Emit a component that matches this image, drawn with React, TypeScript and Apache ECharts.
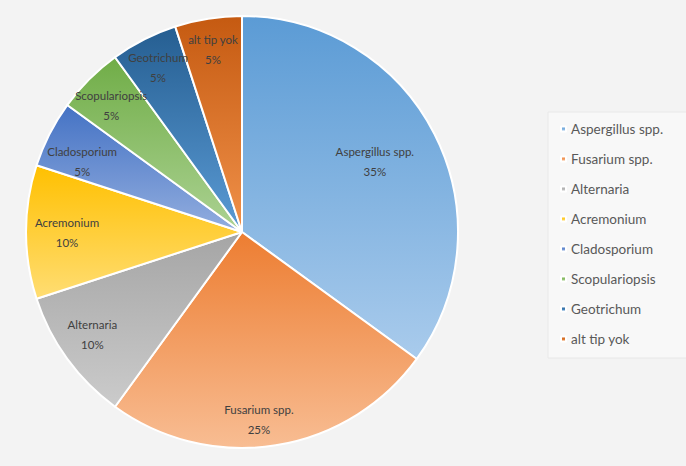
import React, { useEffect, useRef } from "react";
import * as echarts from "echarts";

const categories = [
  "Aspergillus spp.",
  "Fusarium spp.",
  "Alternaria",
  "Acremonium",
  "Cladosporium",
  "Scopulariopsis",
  "Geotrichum",
  "alt tip yok",
];
const values = [35, 25, 10, 10, 5, 5, 5, 5];
const topColors = ["#5b9bd5", "#ed7d31", "#a5a5a5", "#ffc000", "#4472c4", "#70ad47", "#255e91", "#c55a11"];
const bottomColors = ["#a9cbec", "#f8bd93", "#cbcbcb", "#ffdd73", "#93aedf", "#acd293", "#5b9bd5", "#f0914a"];

const labelShift: Record<number, { dx: number; dy: number }> = {
  0: { dx: -32, dy: 13 },
  1: { dx: -12, dy: 5 },
  2: { dx: 0, dy: -6 },
  3: { dx: 10, dy: 0 },
  4: { dx: 5, dy: 13 },
  5: { dx: 0, dy: 4 },
};

export default function App() {
  const ref = useRef<HTMLDivElement>(null);
  useEffect(() => {
    if (!ref.current) return;
    const chart = echarts.init(ref.current, null, { renderer: "svg" });
    const mainData = categories.map((name, i) => ({
      name,
      value: values[i],
      itemStyle: {
        color: new echarts.graphic.LinearGradient(0, 0, 0, 1, [
          { offset: 0, color: topColors[i] },
          { offset: 1, color: bottomColors[i] },
        ]),
      },
    }));
    const labelData = categories.map((name, i) => ({ name, value: values[i] }));
    chart.setOption({
      animation: false,
      backgroundColor: "#f3f3f3",
      legend: {
        data: categories,
        orient: "vertical",
        left: 548,
        top: 112,
        padding: [10, 40, 12, 12],
        backgroundColor: "#f8f8f8",
        borderColor: "#e8e8e8",
        borderWidth: 1,
        icon: "rect",
        itemWidth: 5,
        itemHeight: 5,
        itemGap: 16,
        textStyle: { color: "#595959", fontSize: 13.5, fontFamily: "Lato" },
      },
      series: [
        {
          type: "pie",
          center: [242, 232],
          radius: [0, 216],
          startAngle: 90,
          clockwise: true,
          silent: true,
          label: { show: false },
          labelLine: { show: false },
          itemStyle: { borderColor: "#ffffff", borderWidth: 2 },
          data: mainData,
        },
        {
          type: "pie",
          center: [242, 232],
          radius: [0, 364],
          startAngle: 90,
          clockwise: true,
          silent: true,
          legendHoverLink: false,
          itemStyle: { color: "transparent", borderWidth: 0 },
          label: {
            show: true,
            position: "inside",
            color: "#404040",
            fontSize: 11.5,
            fontFamily: "Lato",
            lineHeight: 20,
            formatter: (p: any) => `${p.name}\n${Math.round(p.percent)}%`,
          },
          labelLine: { show: false },
          labelLayout: (p: any) => labelShift[p.dataIndex] || {},
          data: labelData,
        },
      ],
    });
    return () => chart.dispose();
  }, []);
  return (
    <div
      ref={ref}
      style={{ position: "absolute", left: 0, top: 0, width: 686, height: 466 }}
    />
  );
}
